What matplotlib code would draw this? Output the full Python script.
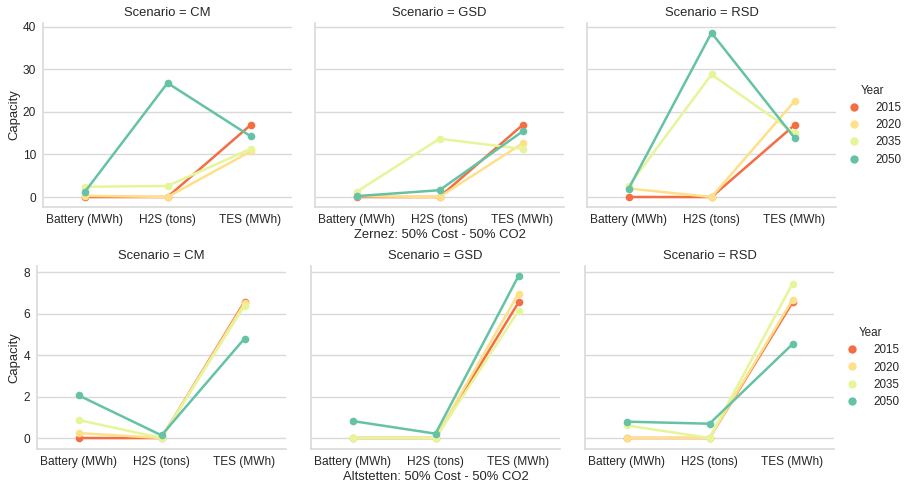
import matplotlib
matplotlib.use("Agg")
import matplotlib.pyplot as plt
from matplotlib.lines import Line2D

plt.rcParams['font.family'] = ['Liberation Sans', 'DejaVu Sans']
plt.rcParams['text.color'] = '0.15'
plt.rcParams['axes.labelcolor'] = '0.15'
plt.rcParams['xtick.color'] = '0.15'
plt.rcParams['ytick.color'] = '0.15'

techs = ['Battery (MWh)', 'H2S (tons)', 'TES (MWh)']
scenarios = ['CM', 'GSD', 'RSD']
years = ['2015', '2020', '2035', '2050']
colors = ['#f46d43', '#fee08b', '#e6f598', '#66c2a5']

# Zernez: 50% Cost - 50% CO2, values per year over techs
zernez_CM = {'2015': [0.0, 0.0, 16.9], '2020': [0.3, 0.0, 10.7],
             '2035': [2.4, 2.6, 11.3], '2050': [1.1, 26.8, 14.3]}
zernez_GSD = {'2015': [0.0, 0.0, 16.9], '2020': [0.2, 0.0, 12.6],
              '2035': [1.2, 13.7, 11.3], '2050': [0.2, 1.6, 15.4]}
zernez_RSD = {'2015': [0.0, 0.0, 16.9], '2020': [2.0, 0.0, 22.5],
              '2035': [2.5, 28.8, 15.1], '2050': [1.9, 38.6, 13.9]}

# Altstetten: 50% Cost - 50% CO2
alt_CM = {'2015': [0.0, 0.0, 6.57], '2020': [0.24, 0.0, 6.5],
          '2035': [0.87, 0.0, 6.39], '2050': [2.06, 0.13, 4.8]}
alt_GSD = {'2015': [0.0, 0.0, 6.54], '2020': [0.0, 0.0, 6.97],
           '2035': [0.0, 0.0, 6.14], '2050': [0.82, 0.21, 7.82]}
alt_RSD = {'2015': [0.0, 0.0, 6.54], '2020': [0.0, 0.0, 6.67],
           '2035': [0.61, 0.0, 7.45], '2050': [0.79, 0.69, 4.53]}

rows = [
    ('Zernez: 50% Cost - 50% CO2', [zernez_CM, zernez_GSD, zernez_RSD],
     (-2.35, 40.9), [0, 10, 20, 30, 40]),
    ('Altstetten: 50% Cost - 50% CO2', [alt_CM, alt_GSD, alt_RSD],
     (-0.53, 8.3), [0, 2, 4, 6, 8]),
]

W, H = 906, 483
fig = plt.figure(figsize=(W / 100, H / 100), dpi=100)

# axes boxes in pixels: (left, top, width, height)
lefts = [[43, 315, 587], [37, 311, 585]]
tops = [23, 266]
height = [184, 183]
width = 249

for r, (site, panels, ylim, yticks) in enumerate(rows):
    for c, data in enumerate(panels):
        l = lefts[r][c]
        ax = fig.add_axes([l / W, 1 - (tops[r] + height[r]) / H, width / W, height[r] / H])
        x = range(len(techs))
        for yr, col in zip(years, colors):
            ax.plot(x, data[yr], color=col, lw=1.8, marker='o', ms=5.5,
                    markeredgewidth=0, zorder=3)
        ax.set_xlim(-0.5, 2.5)
        ax.set_ylim(*ylim)
        ax.set_yticks(yticks)
        ax.set_xticks(list(x))
        ax.set_xticklabels(techs)
        if c > 0:
            ax.set_yticklabels([])
        else:
            ax.set_ylabel('Capacity', fontsize=9.4, labelpad=2)
        if c == 1:
            ax.set_xlabel(site, fontsize=9.4, labelpad=2)
        ax.set_title('Scenario = ' + scenarios[c], fontsize=9.4, pad=5)
        ax.tick_params(axis='both', length=0, labelsize=8.6, pad=5)
        ax.grid(axis='y', color='0.85', lw=1)
        ax.set_axisbelow(True)
        for s in ['top', 'right']:
            ax.spines[s].set_visible(False)
        for s in ['left', 'bottom']:
            ax.spines[s].set_color('0.85')
            ax.spines[s].set_linewidth(1.2)
        if c == 2:
            handles = [Line2D([], [], ls='', marker='o', ms=6, color=col,
                              markeredgewidth=0) for col in colors]
            leg = ax.legend(handles, years, title='Year', loc='center left',
                            bbox_to_anchor=(0.985, 0.445), frameon=False,
                            fontsize=8.4, title_fontsize=8.4,
                            handletextpad=0.8, labelspacing=0.45)

fig.savefig('out.png', dpi=100)
